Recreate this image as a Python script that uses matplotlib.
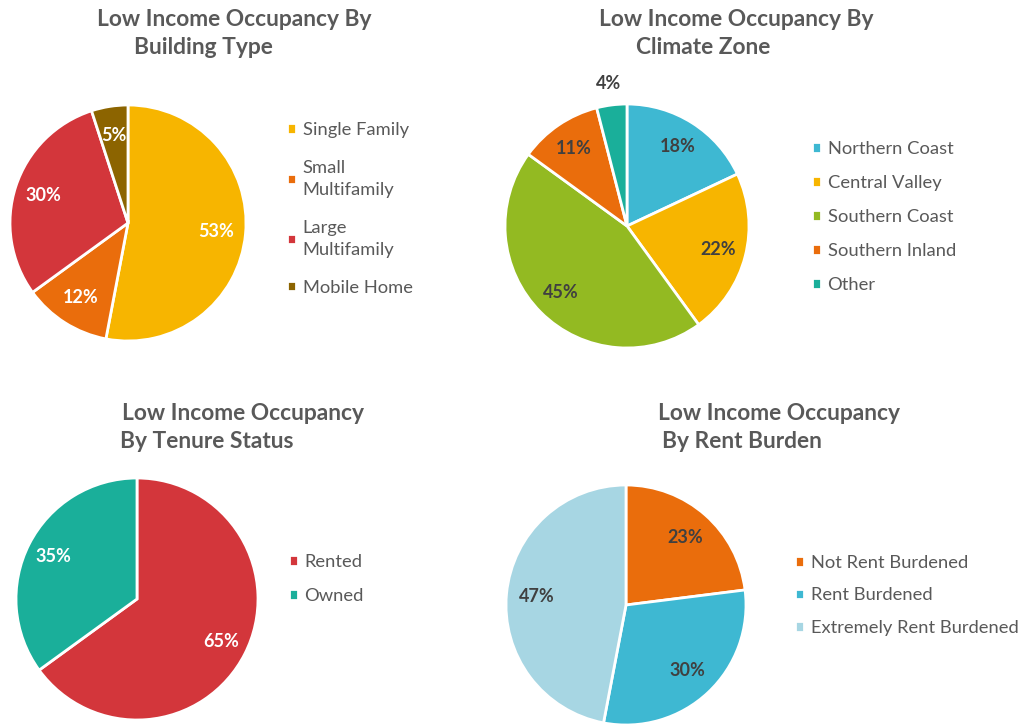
import numpy as np
import matplotlib.pyplot as plt

plt.rcParams['font.family'] = ['Lato', 'DejaVu Sans']

# data
bt_labels = ['Single Family', 'Small\nMultifamily', 'Large\nMultifamily', 'Mobile Home']
bt_values = [53, 12, 30, 5]
bt_colors = ['#F7B500', '#EA6D0C', '#D3363B', '#8C6400']

cz_labels = ['Northern Coast', 'Central Valley', 'Southern Coast', 'Southern Inland', 'Other']
cz_values = [18, 22, 45, 11, 4]
cz_colors = ['#3EB8D2', '#F7B500', '#93BA22', '#EA6D0C', '#1AAF9A']

ts_labels = ['Rented', 'Owned']
ts_values = [65, 35]
ts_colors = ['#D3363B', '#1AAF9A']

rb_labels = ['Not Rent Burdened', 'Rent Burdened', 'Extremely Rent Burdened']
rb_values = [23, 30, 47]
rb_colors = ['#EA6D0C', '#3EB8D2', '#A7D6E3']

W, H = 1018, 725
fig = plt.figure(figsize=(W / 100, H / 100), dpi=100)
fig.patch.set_facecolor('white')

TITLE_C = '#595959'
TEXT_C = '#595959'


def draw_pie(cx, cy, r, values, colors, labels, pct_color, pctdist,
             leg_x, leg_y, leg_space):
    ax = fig.add_axes([(cx - r) / W, 1 - (cy + r) / H, 2 * r / W, 2 * r / H])
    wedges, _, autotexts = ax.pie(
        values, colors=colors, startangle=90, counterclock=False, radius=1,
        autopct='%.0f%%', pctdistance=pctdist,
        wedgeprops=dict(edgecolor='white', linewidth=2),
        textprops=dict(color=pct_color, fontsize=13, fontweight='bold'))
    ax.set_xlim(-1, 1)
    ax.set_ylim(-1, 1)
    ax.axis('off')
    leg = fig.legend(wedges, labels, loc='upper left',
                     bbox_to_anchor=(leg_x / W, 1 - leg_y / H),
                     frameon=False, fontsize=13.2, labelcolor=TEXT_C,
                     handlelength=0.5, handleheight=0.5, handletextpad=0.35,
                     labelspacing=leg_space, borderpad=0, borderaxespad=0)
    for t in leg.get_texts():
        t.set_linespacing(1.45)
    return ax, wedges, autotexts


def title(x, y, lines):
    for i, s in enumerate(lines):
        fig.text(x[i] / W, 1 - y[i] / H, s, fontsize=16.4, fontweight='bold',
                 color=TITLE_C, ha='left', va='center')


# building type
draw_pie(128, 223, 118, bt_values, bt_colors, bt_labels, 'white', 0.75,
         287, 122, 1.2)
title([97, 134], [20, 48], ['Low Income Occupancy By', 'Building Type'])

# climate zone
ax2, w2, t2 = draw_pie(627, 226, 122, cz_values, cz_colors, cz_labels,
                       '#404040', 0.77, 812, 141, 0.98)
w = w2[-1]
mid = np.deg2rad((w.theta1 + w.theta2) / 2)
t2[-1].set_position((1.18 * np.cos(mid), 1.18 * np.sin(mid)))
title([599, 636], [20, 48], ['Low Income Occupancy By', 'Climate Zone'])

# tenure status
draw_pie(137, 599, 121, ts_values, ts_colors, ts_labels, 'white', 0.78,
         289, 554, 0.98)
title([122, 120], [413, 442], ['Low Income Occupancy', 'By Tenure Status'])

# rent burden
draw_pie(626, 605, 120, rb_values, rb_colors, rb_labels, '#404040', 0.75,
         795, 555, 0.9)
title([658, 662], [413, 442], ['Low Income Occupancy', 'By Rent Burden'])

fig.savefig('out.png', dpi=100)
